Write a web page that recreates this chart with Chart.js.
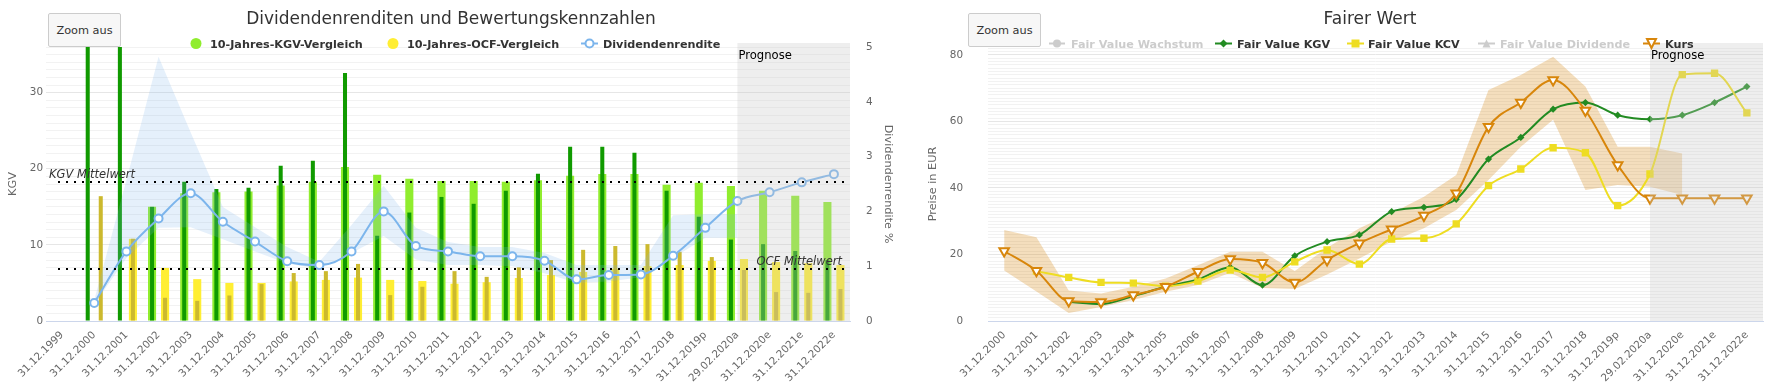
<!DOCTYPE html>
<html><head><meta charset="utf-8">
<script src="https://cdn.jsdelivr.net/npm/chart.js@4.4.0/dist/chart.umd.min.js"></script>
<style>
html,body{margin:0;padding:0;background:#fff;width:1783px;height:386px;overflow:hidden;}
#wrapL{position:absolute;left:0;top:0;width:900px;height:386px;}
#wrapR{position:absolute;left:900px;top:0;width:883px;height:386px;}
canvas{display:block;}
.zoombtn{position:absolute;top:13px;width:73px;height:34px;background:#f7f7f7;border:1px solid #cccccc;border-radius:2px;font:11.3px "DejaVu Sans",sans-serif;color:#333;box-sizing:border-box;padding:0;z-index:5;}
</style></head>
<body>
<div id="wrapL"><canvas id="cL" width="900" height="386"></canvas></div>
<div id="wrapR"><canvas id="cR" width="883" height="386"></canvas></div>
<button class="zoombtn" style="left:48px">Zoom aus</button>
<button class="zoombtn" style="left:968px">Zoom aus</button>
<script>
// ---------- DATA (left chart) ----------
const leftCategories = ['31.12.1999','31.12.2000','31.12.2001','31.12.2002','31.12.2003','31.12.2004','31.12.2005','31.12.2006','31.12.2007','31.12.2008','31.12.2009','31.12.2010','31.12.2011','31.12.2012','31.12.2013','31.12.2014','31.12.2015','31.12.2016','31.12.2017','31.12.2018','31.12.2019p','29.02.2020a','31.12.2020e','31.12.2021e','31.12.2022e'];
const kgvVergleich = [null,null,null,15.0,16.8,16.9,17.0,17.8,18.3,20.25,19.2,18.7,18.4,18.4,18.3,18.5,19.1,19.3,19.3,17.9,18.15,17.75,17.1,16.45,15.65];
const kgv = [null,40,40,15.0,18.3,17.35,17.5,20.4,21.05,32.6,11.2,14.25,16.3,15.4,17.1,19.35,22.9,22.9,22.1,17.1,13.7,10.7,10.1,9.2,8.0];
const ocfVergleich = [null,null,10.8,6.97,5.5,5.0,5.0,5.2,5.4,5.7,5.4,5.25,4.9,5.1,5.65,6.05,6.45,6.85,7.2,7.35,7.9,8.15,7.75,7.6,7.35];
const ocf = [null,16.4,10.8,3.05,2.65,3.35,4.85,6.3,6.55,7.5,3.4,4.5,6.55,5.8,7.05,8.0,9.35,9.85,10.1,9.1,8.4,6.7,3.8,3.7,4.2];
const dividendenrendite = [null,0.33,1.27,1.87,2.33,1.81,1.45,1.09,1.02,1.27,2.0,1.37,1.27,1.18,1.18,1.10,0.76,0.84,0.85,1.19,1.70,2.19,2.35,2.53,2.68];
const divHigh = [null,0.38,2.57,4.82,3.44,2.08,1.71,1.35,1.08,1.75,2.47,1.7,1.44,1.35,1.35,1.24,1.02,1.02,1.02,1.93,1.95,1.95,null,null,null];
const divLow = [null,0.3,1.15,1.7,1.71,1.49,1.27,1.05,0.95,1.24,1.55,1.12,1.02,1.02,1.0,0.87,0.7,0.72,0.8,1.15,1.52,1.52,null,null,null];
const kgvMittelwert = 18.3;
const ocfMittelwert = 6.85;
const kgvTicks = [0,10,20,30];
const divTicks = [0,1,2,3,4,5];
const prognoseStartLeft = '29.02.2020a';

// ---------- DATA (right chart) ----------
const rightCategories = ['31.12.2000','31.12.2001','31.12.2002','31.12.2003','31.12.2004','31.12.2005','31.12.2006','31.12.2007','31.12.2008','31.12.2009','31.12.2010','31.12.2011','31.12.2012','31.12.2013','31.12.2014','31.12.2015','31.12.2016','31.12.2017','31.12.2018','31.12.2019p','29.02.2020a','31.12.2020e','31.12.2021e','31.12.2022e'];
const kurs = [21.05,15.1,6.0,5.7,7.8,10.3,14.8,18.65,17.5,11.6,18.35,23.4,27.6,31.7,38.4,58.4,65.7,72.5,63.3,46.9,36.9,36.9,36.9,36.9];
const kursHigh = [27.4,25.2,9.2,8.3,10.3,12.8,16.8,20.8,20.8,15.0,22.0,27.9,32.4,37.4,43.9,69.5,74.0,79.5,70.5,52.4,52.4,50.4,null,null];
const kursLow = [15.2,8.9,2.4,4.2,6.3,8.8,10.8,14.5,9.9,9.6,14.0,18.8,23.9,27.9,33.4,42.4,52.4,60.5,39.4,40.9,40.4,37.9,null,null];
const fairValueKGV = [null,null,5.8,5.1,7.5,10.3,12.5,16.2,10.8,19.6,23.85,25.9,32.9,34.2,36.6,48.7,55.2,63.7,65.7,61.9,60.7,61.9,65.7,70.5];
const fairValueKCV = [null,15.0,13.1,11.6,11.4,10.5,12.0,15.3,13.1,17.8,21.35,17.1,24.65,24.9,29.2,40.7,45.7,52.1,50.6,34.7,44.2,74.1,74.5,62.6];
const priceTicks = [0,20,40,60,80];
const prognoseStartRight = '29.02.2020a';

// ---------- helpers ----------
const FONT = '"DejaVu Sans", sans-serif';
Chart.defaults.font.family = FONT;
Chart.defaults.color = '#666666';

function drawMarker(ctx, type, x, y, r, fill, stroke, lw) {
  ctx.save(); ctx.beginPath();
  if (type === 'circle') ctx.arc(x, y, r, 0, Math.PI * 2);
  else if (type === 'square') ctx.rect(x - r, y - r, 2 * r, 2 * r);
  else if (type === 'diamond') { ctx.moveTo(x, y - r); ctx.lineTo(x + r, y); ctx.lineTo(x, y + r); ctx.lineTo(x - r, y); ctx.closePath(); }
  else if (type === 'triangle') { ctx.moveTo(x, y - r); ctx.lineTo(x + r, y + r); ctx.lineTo(x - r, y + r); ctx.closePath(); }
  else if (type === 'triangle-down') { ctx.moveTo(x - r, y - r); ctx.lineTo(x + r, y - r); ctx.lineTo(x, y + r); ctx.closePath(); }
  if (fill) { ctx.fillStyle = fill; ctx.fill(); }
  if (stroke) { ctx.strokeStyle = stroke; ctx.lineWidth = lw; ctx.stroke(); }
  ctx.restore();
}
function legendLine(ctx, x1, x2, y, color) {
  ctx.save(); ctx.strokeStyle = color; ctx.lineWidth = 2;
  ctx.beginPath(); ctx.moveTo(x1, y); ctx.lineTo(x2, y); ctx.stroke(); ctx.restore();
}
const OVERLAY = 'rgba(200,200,200,0.3)';

// ---------- left chart plugin ----------
const leftPlugin = {
  id: 'leftDecor',
  afterDatasetsDraw(chart) {
    const { ctx, chartArea: ca, scales } = chart;
    const x0 = scales.x.getPixelForValue(leftCategories.indexOf(prognoseStartLeft));
    ctx.save();
    ctx.fillStyle = OVERLAY;
    ctx.fillRect(x0, ca.top - 4, ca.right - x0, ca.bottom - ca.top + 4);
    ctx.strokeStyle = '#000'; ctx.lineWidth = 2; ctx.setLineDash([2, 6]);
    const yK = Math.round(scales.y.getPixelForValue(kgvMittelwert));
    const yO = Math.round(scales.y.getPixelForValue(ocfMittelwert));
    [yK, yO].forEach(yy => { ctx.beginPath(); ctx.moveTo(ca.left + 12, yy); ctx.lineTo(ca.right, yy); ctx.stroke(); });
    ctx.setLineDash([]);
    ctx.font = 'italic 11.5px ' + FONT; ctx.fillStyle = '#333';
    ctx.textBaseline = 'alphabetic';
    ctx.textAlign = 'left'; ctx.fillText('KGV Mittelwert', ca.left + 3, yK - 4);
    ctx.textAlign = 'right'; ctx.fillText('OCF Mittelwert', ca.right - 8, yO - 4);
    ctx.textAlign = 'left'; ctx.font = '11.6px ' + FONT; ctx.fillStyle = '#000';
    ctx.fillText('Prognose', x0 + 1, 59);
    ctx.restore();
  },
  afterDraw(chart) {
    const ctx = chart.ctx;
    const ds = chart.data.datasets;
    ctx.save();
    ctx.font = '17px ' + FONT; ctx.fillStyle = '#333'; ctx.textAlign = 'center'; ctx.textBaseline = 'alphabetic';
    ctx.fillText('Dividendenrenditen und Bewertungskennzahlen', 451, 24);
    ctx.font = 'bold 11.2px ' + FONT; ctx.textAlign = 'left'; ctx.fillStyle = '#333';
    const ly = 43.5;
    drawMarker(ctx, 'circle', 196, ly, 5.5, '#90ed2e');
    ctx.fillText(ds[3].label, 210, 47.6);
    drawMarker(ctx, 'circle', 393, ly, 5.5, '#ffee33');
    ctx.fillText(ds[5].label, 407, 47.6);
    legendLine(ctx, 581, 598, ly, '#7cb5ec');
    drawMarker(ctx, 'circle', 589.5, ly, 4, '#ffffff', '#7cb5ec', 2);
    ctx.fillText(ds[0].label, 603, 47.6);
    ctx.restore();
  }
};

const barCommon = { categoryPercentage: 0.81, borderWidth: 0, clip: 0, yAxisID: 'y' };

new Chart(document.getElementById('cL'), {
  type: 'bar',
  data: {
    labels: leftCategories,
    datasets: [
      { type: 'line', label: 'Dividendenrendite', data: dividendenrendite, yAxisID: 'y1', order: 0,
        borderColor: '#7cb5ec', borderWidth: 2, pointRadius: 4, pointHoverRadius: 4,
        pointBackgroundColor: '#ffffff', pointBorderColor: '#7cb5ec', pointBorderWidth: 2,
        cubicInterpolationMode: 'monotone', fill: false },
      { type: 'line', label: 'Dividendenrendite Spanne', data: divHigh, yAxisID: 'y1', order: 1,
        borderWidth: 0, borderColor: 'transparent', pointRadius: 0, pointHoverRadius: 0, tension: 0,
        fill: '+1', backgroundColor: 'rgba(124,181,236,0.2)' },
      { type: 'line', label: 'low', data: divLow, yAxisID: 'y1', order: 1,
        borderWidth: 0, borderColor: 'transparent', pointRadius: 0, pointHoverRadius: 0, tension: 0, fill: false },
      Object.assign({ label: '10-Jahres-KGV-Vergleich', data: kgvVergleich, backgroundColor: '#90ed2e', stack: 'kgv', barPercentage: 0.62, order: 3 }, barCommon),
      Object.assign({ label: 'KGV', data: kgv, backgroundColor: '#109a00', stack: 'kgv', barPercentage: 0.31, order: 2 }, barCommon),
      Object.assign({ label: '10-Jahres-OCF-Vergleich', data: ocfVergleich, backgroundColor: '#ffee33', stack: 'ocf', barPercentage: 0.62, order: 3 }, barCommon),
      Object.assign({ label: 'OCF', data: ocf, backgroundColor: '#ccb92e', stack: 'ocf', barPercentage: 0.31, order: 2 }, barCommon)
    ]
  },
  options: {
    responsive: false, animation: false, devicePixelRatio: 1,
    layout: { padding: { top: 47, left: 0, right: 0, bottom: 0 } },
    plugins: { legend: { display: false }, title: { display: false }, tooltip: { enabled: false } },
    scales: {
      x: {
        offset: true,
        grid: { display: false, drawTicks: false },
        border: { color: '#ccd6eb' },
        ticks: { autoSkip: false, maxRotation: 45, minRotation: 45, padding: 8, font: { size: 10.4 }, color: '#666' },
        afterFit: s => { s.height = 65; }
      },
      y: {
        position: 'left', min: 0, max: 36, stacked: false,
        ticks: { stepSize: 1, autoSkip: false, includeBounds: false, padding: 3, font: { size: 10.4 }, color: '#666',
          callback: v => kgvTicks.includes(v) ? String(v) : '' },
        grid: { drawTicks: false, color: c => (c.tick && c.tick.value % 10 === 0) ? '#e6e6e6' : '#f2f2f2' },
        border: { display: false },
        title: { display: true, text: 'KGV', padding: { top: 6, bottom: 0 }, font: { size: 11.3 }, color: '#666' },
        afterFit: s => { s.width = 46; }
      },
      y1: {
        position: 'right', min: 0, max: 5,
        ticks: { stepSize: 1, autoSkip: false, padding: 16, font: { size: 10.4 }, color: '#666',
          callback: v => divTicks.includes(v) ? String(v) : '' },
        grid: { display: false, drawTicks: false },
        border: { display: false },
        title: { display: true, text: 'Dividendenrendite %', padding: { top: 5, bottom: 0 }, font: { size: 11.3 }, color: '#666' },
        afterFit: s => { s.width = 50; }
      }
    }
  },
  plugins: [leftPlugin]
});

// ---------- right chart ----------
const rightPlugin = {
  id: 'rightDecor',
  afterDatasetsDraw(chart) {
    const { ctx, chartArea: ca, scales } = chart;
    const x0 = scales.x.getPixelForValue(rightCategories.indexOf(prognoseStartRight));
    ctx.save();
    ctx.fillStyle = OVERLAY;
    ctx.fillRect(x0, ca.top - 4, ca.right - x0, ca.bottom - ca.top + 4);
    ctx.font = '11.6px ' + FONT; ctx.fillStyle = '#000'; ctx.textAlign = 'left'; ctx.textBaseline = 'alphabetic';
    ctx.fillText('Prognose', x0 + 1, 59);
    ctx.restore();
  },
  afterDraw(chart) {
    const ctx = chart.ctx;
    const o = 900; // canvas offset within the page
    ctx.save();
    ctx.font = '17px ' + FONT; ctx.fillStyle = '#333'; ctx.textAlign = 'center'; ctx.textBaseline = 'alphabetic';
    ctx.fillText('Fairer Wert', 1370 - o, 24);
    ctx.font = 'bold 11.2px ' + FONT; ctx.textAlign = 'left';
    const ly = 43.5, ty = 47.6;
    legendLine(ctx, 1049 - o, 1065 - o, ly, '#cccccc');
    drawMarker(ctx, 'circle', 1057 - o, ly, 4, '#cccccc');
    ctx.fillStyle = '#cccccc'; ctx.fillText('Fair Value Wachstum', 1071 - o, ty);
    legendLine(ctx, 1215 - o, 1232 - o, ly, '#228b22');
    drawMarker(ctx, 'diamond', 1223.5 - o, ly, 4, '#228b22');
    ctx.fillStyle = '#333'; ctx.fillText('Fair Value KGV', 1237 - o, ty);
    legendLine(ctx, 1347 - o, 1364 - o, ly, '#eedd22');
    drawMarker(ctx, 'square', 1355.5 - o, ly, 4, '#eedd22');
    ctx.fillStyle = '#333'; ctx.fillText('Fair Value KCV', 1368 - o, ty);
    legendLine(ctx, 1478 - o, 1495 - o, ly, '#cccccc');
    drawMarker(ctx, 'triangle', 1486.5 - o, ly, 4, '#cccccc');
    ctx.fillStyle = '#cccccc'; ctx.fillText('Fair Value Dividende', 1500 - o, ty);
    legendLine(ctx, 1643 - o, 1660 - o, ly, '#d8860b');
    drawMarker(ctx, 'triangle-down', 1651.5 - o, ly, 4.5, '#ffffff', '#d8860b', 2);
    ctx.fillStyle = '#333'; ctx.fillText('Kurs', 1665 - o, ty);
    ctx.restore();
  }
};

new Chart(document.getElementById('cR'), {
  type: 'line',
  data: {
    labels: rightCategories,
    datasets: [
      { label: 'Kurs Spanne', data: kursHigh, order: 3, borderWidth: 0, borderColor: 'transparent',
        pointRadius: 0, pointHoverRadius: 0, tension: 0, fill: '+1', backgroundColor: 'rgba(216,134,11,0.27)' },
      { label: 'low', data: kursLow, order: 3, borderWidth: 0, borderColor: 'transparent',
        pointRadius: 0, pointHoverRadius: 0, tension: 0, fill: false },
      { label: 'Fair Value KGV', data: fairValueKGV, order: 2, borderColor: '#228b22', borderWidth: 2,
        pointStyle: 'rectRot', pointRadius: 3.6, pointHoverRadius: 3.6, pointBackgroundColor: '#228b22', pointBorderWidth: 0,
        cubicInterpolationMode: 'monotone', fill: false },
      { label: 'Fair Value KCV', data: fairValueKCV, order: 1, borderColor: '#eedd22', borderWidth: 2,
        pointStyle: 'rect', pointRadius: 5.2, pointHoverRadius: 5.2, pointBackgroundColor: '#eedd22', pointBorderWidth: 0,
        cubicInterpolationMode: 'monotone', fill: false },
      { label: 'Kurs', data: kurs, order: 0, borderColor: '#d8860b', borderWidth: 2,
        pointStyle: 'triangle', pointRotation: 180, pointRadius: 5.5, pointHoverRadius: 5.5,
        pointBackgroundColor: '#ffffff', pointBorderColor: '#d8860b', pointBorderWidth: 2,
        cubicInterpolationMode: 'monotone', fill: false }
    ]
  },
  options: {
    responsive: false, animation: false, devicePixelRatio: 1,
    layout: { padding: { top: 47, left: 0, right: 20, bottom: 0 } },
    plugins: { legend: { display: false }, title: { display: false }, tooltip: { enabled: false } },
    scales: {
      x: {
        offset: true,
        grid: { display: false, drawTicks: false },
        border: { color: '#ccd6eb' },
        ticks: { autoSkip: false, maxRotation: 45, minRotation: 45, padding: 8, font: { size: 10.4 }, color: '#666' },
        afterFit: s => { s.height = 65; }
      },
      y: {
        min: 0, max: 82.4,
        ticks: { stepSize: 1, autoSkip: false, includeBounds: false, padding: 25, font: { size: 10.4 }, color: '#666',
          callback: v => priceTicks.includes(v) ? String(v) : '' },
        grid: { drawTicks: false, color: c => (c.tick && c.tick.value % 20 === 0) ? '#e6e6e6' : '#f2f2f2' },
        border: { display: false },
        title: { display: true, text: 'Preise in EUR', padding: { top: 26, bottom: 0 }, font: { size: 11.3 }, color: '#666' },
        afterFit: s => { s.width = 88; }
      }
    }
  },
  plugins: [rightPlugin]
});
</script>
</body></html>
